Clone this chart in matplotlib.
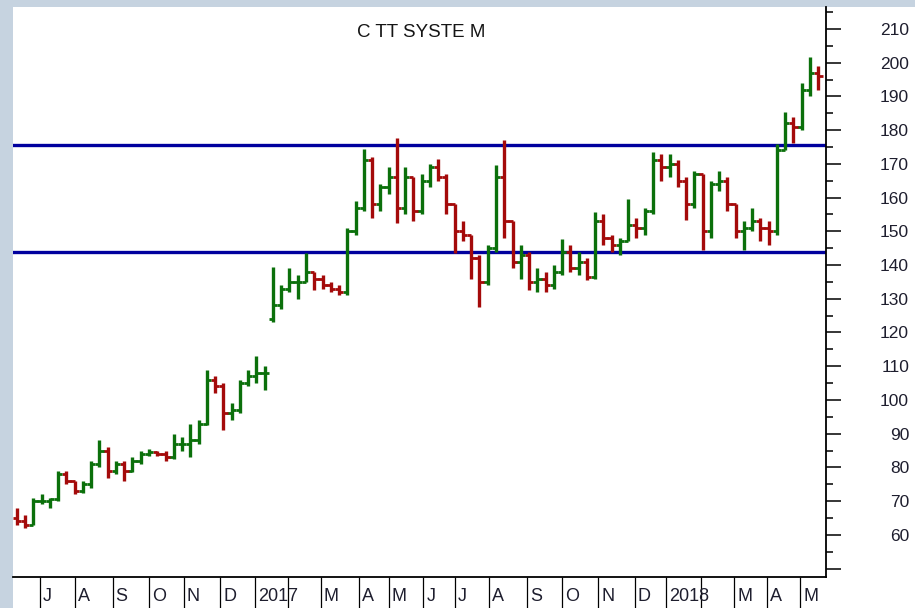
import numpy as np
import matplotlib.pyplot as plt
from matplotlib.patches import Rectangle

plt.rcParams['font.family'] = ['Liberation Sans', 'DejaVu Sans']

# month labels from Jul 2016 to May 2018 (Feb is hidden under the year label)
month_labels = ['J', 'A', 'S', 'O', 'N', 'D', '2017', '', 'M', 'A', 'M', 'J',
                'J', 'A', 'S', 'O', 'N', 'D', '2018', '', 'M', 'A', 'M']
# trading days per month, Jul 2016 .. Apr 2018
month_days = [21, 23, 22, 21, 22, 21, 20, 20, 23, 18, 21, 19,
              21, 23, 21, 22, 22, 19, 21, 20, 20, 20]

support = 143.9
resistance = 175.6

# weekly bars, x = trading day counted from 1 Jul 2016
bar_day = np.arange(-14, 472, 5)

opens = [65, 64, 63, 70, 70, 70.5, 78, 76, 73, 75,
         81, 85, 79, 81, 79, 82, 84, 84.6, 84, 83,
         87, 87, 88, 93, 106, 104, 96, 97, 105, 107,
         108, 124, 128, 133, 135, 135, 138, 136, 134, 133,
         132, 150, 157, 171, 158, 163, 166, 157, 166, 156,
         165, 169, 166, 158, 150, 149, 142, 135, 145, 166,
         153, 141, 143, 135, 136, 134, 138, 144, 139, 141,
         136.5, 153, 148, 146, 147, 152, 151, 156, 171, 169,
         170, 165, 158, 167, 150, 164, 165, 158, 150, 151,
         153, 151, 150, 174, 182, 181, 192, 197]
highs = [68, 66, 71, 72, 71, 79, 79, 76, 76, 82,
         88, 86, 82, 82, 83, 85, 85.5, 85, 85, 90,
         89, 93, 94, 109, 107, 105, 99, 106, 109, 113,
         110, 139.5, 134, 139, 137, 143.6, 138, 137, 135, 134,
         151, 159, 174.5, 172, 164, 169, 177.7, 169, 166, 167,
         170, 171.5, 167, 158, 153, 149, 143, 146, 169.7, 177.1,
         153, 146, 144, 139, 138, 140, 147.8, 146, 144, 142,
         155.8, 155, 149, 148, 159.7, 154, 157, 173.5, 173, 173,
         171, 166, 168, 167, 165, 168, 166, 158, 153, 157,
         154, 153, 176, 185.3, 184, 194, 201.7, 199]
lows = [63, 62, 63, 69, 68, 70, 75, 72, 72.5, 74,
        80, 77, 78, 76, 78.5, 81, 83.5, 83.5, 82, 82.5,
        85, 83, 87, 92.5, 102, 91, 94, 96, 104, 105,
        103, 123, 127, 132, 130, 135, 132.5, 133, 132, 131,
        131, 149, 156, 154, 156, 161, 152.5, 155, 153, 155,
        163, 165, 155, 143.6, 147, 136, 127.6, 134, 144, 148,
        139, 136, 132.6, 132, 132, 133, 137, 138, 137, 135.5,
        136, 146, 144, 143, 147, 148, 149, 155, 165, 166,
        163, 153.4, 157, 144.5, 148, 162, 156, 148, 144.5, 150,
        147, 146, 149, 174, 176.2, 180, 190, 192]
closes = [64, 63, 70, 70, 70.5, 78, 76, 73, 75, 81,
          85, 79, 81, 79, 82, 84, 84.6, 84, 83, 87,
          87, 88, 93, 106, 104, 96, 97, 105, 107, 108,
          108, 128, 133, 135, 135, 138, 136, 134, 133, 132,
          150, 157, 171, 158, 163, 166, 157, 166, 156, 165,
          169, 166, 158, 150, 149, 142, 135, 145, 166, 153,
          141, 143, 135, 136, 134, 138, 144, 139, 141, 136.5,
          153, 148, 146, 147, 152, 151, 156, 171, 169, 170,
          165, 158, 167, 150, 164, 165, 158, 150, 151, 153,
          151, 150, 174, 182, 181, 192, 197, 196]

GREEN = '#0b700b'
RED = '#a40a0a'
NAVY = '#00009e'
TXT = '#1e1e2e'

W, H = 915, 608
fig = plt.figure(figsize=(W / 100, H / 100), dpi=100, facecolor='#c6d3e0')
fig.patches.append(Rectangle((13 / W, 0), 1, 1 - 7 / H, transform=fig.transFigure,
                             facecolor='white', edgecolor='none', zorder=-1))
ax = fig.add_axes([13 / W, 1 - 577 / H, (826 - 13) / W, (577 - 7) / H])
ax.set_facecolor('white')

starts = np.concatenate([[0], np.cumsum(month_days)])
ax.set_xlim(-16.3, 475.7)
ax.set_ylim(47.5, 216.5)

# price bars
cols = [GREEN if c >= o else RED for o, c in zip(opens, closes)]
ax.vlines(bar_day, lows, highs, colors=cols, lw=2.4, zorder=3)
ax.hlines(opens, bar_day - 2.6, bar_day, colors=cols, lw=2.0, zorder=3)
ax.hlines(closes, bar_day, bar_day + 2.6, colors=cols, lw=2.0, zorder=3)

ax.axhline(resistance, color=NAVY, lw=2.4, zorder=2)
ax.axhline(support, color=NAVY, lw=2.4, zorder=2)

for side in ['left', 'top']:
    ax.spines[side].set_visible(False)
for side in ['right', 'bottom']:
    ax.spines[side].set_linewidth(1.3)

# right price axis
ax.yaxis.tick_right()
ax.set_yticks(np.arange(50, 211, 10))
ax.set_yticklabels([''] + [str(v) for v in range(60, 211, 10)])
ax.set_yticks(np.arange(55, 216, 10), minor=True)
ax.tick_params(axis='y', which='major', length=10.8, width=1.1, pad=49,
               labelsize=12.5, labelcolor=TXT)
ax.tick_params(axis='y', which='minor', length=5, width=1.1)
for lab in ax.get_yticklabels():
    lab.set_horizontalalignment('right')

# month separators and labels
ax.set_xticks(starts)
ax.set_xticklabels([])
ax.tick_params(axis='x', length=23, width=0.9)
for s, lab in zip(starts, month_labels):
    ax.annotate(lab, (s, 0), xycoords=('data', 'axes fraction'),
                xytext=(2.2, -17.3), textcoords='offset points',
                ha='left', va='baseline', fontsize=13, color=TXT)

fig.text(421 / W, 1 - 37 / H, 'C TT SYSTE M', ha='center', va='baseline',
         fontsize=13.5, color='#151515')

fig.savefig('out.png', dpi=100, facecolor=fig.get_facecolor())
